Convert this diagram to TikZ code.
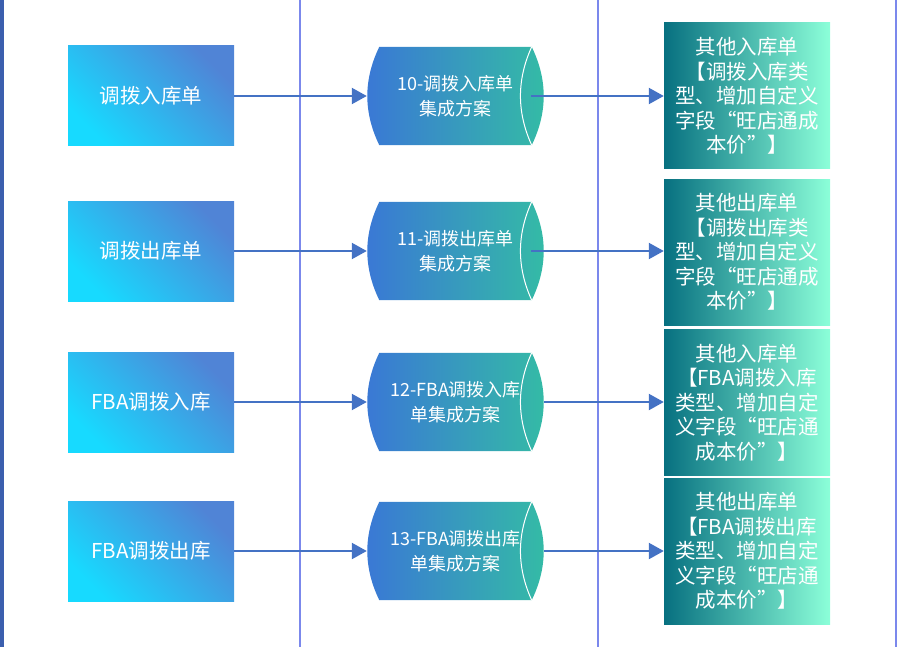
\documentclass[tikz,border=0pt]{standalone}
\usepackage{fontspec}
\setmainfont{Noto Sans CJK SC}
\usetikzlibrary{positioning,backgrounds,arrows.meta}

\definecolor{linkblue}{HTML}{4472C4}
\definecolor{laneline}{HTML}{7B88EC}
\definecolor{edgeblue}{HTML}{3B5FAE}
\definecolor{srclow}{HTML}{17DAFF}
\definecolor{srchigh}{HTML}{5084D6}
\definecolor{drumleft}{HTML}{3A77D6}
\definecolor{drummid}{HTML}{5B82E2}
\definecolor{drumright}{HTML}{34BCA5}
\definecolor{dstleft}{HTML}{077080}
\definecolor{dstright}{HTML}{8CFFD9}

% cylinder body behind a named node
\newcommand{\drumbody}[1]{%
  \begin{scope}[on background layer]
    \shade[left color=drumleft, middle color=drummid, right color=drumright]
      ([xshift=12.5pt]#1.north west) -- ([xshift=-12.5pt]#1.north east)
      .. controls +(16pt,-33pt) and +(16pt,33pt) .. ([xshift=-12.5pt]#1.south east)
      -- ([xshift=12.5pt]#1.south west)
      .. controls +(-16pt,33pt) and +(-16pt,-33pt) .. ([xshift=12.5pt]#1.north west) -- cycle;
  \end{scope}
  \draw[white, line width=1pt] ([xshift=-12.5pt]#1.north east)
    .. controls +(-15pt,-33pt) and +(-15pt,33pt) .. ([xshift=-12.5pt]#1.south east);}

\begin{document}
\begin{tikzpicture}[x=1pt, y=1pt,
    src/.style={minimum width=166pt, minimum height=100pt, inner sep=0pt,
      bottom color=srclow, top color=srchigh, shading angle=-45,
      text=white, font=\fontsize{20.5}{24}\selectfont},
    plan/.style={minimum width=177pt, minimum height=98pt, inner sep=0pt,
      text=white, align=center, font=\fontsize{18}{25}\selectfont},
    dst/.style={minimum width=166pt, minimum height=146pt, inner sep=0pt,
      left color=dstleft, right color=dstright,
      text=white, align=center, font=\fontsize{20.5}{24.6}\selectfont},
    link/.style={linkblue, line width=2.2pt, -{Triangle[length=15pt, width=16pt]}}]
    \useasboundingbox (0,0) rectangle (901,-647);
    % lanes
    \fill[edgeblue] (0,0) rectangle (3.5,-647);
    \draw[laneline, line width=2.2pt] (300,0) -- (300,-647);
    \draw[laneline, line width=2.2pt] (598,0) -- (598,-647);
    \draw[laneline, line width=2.2pt] (896,0) -- (896,-647);

    % row 1
    \node[src] (s1) at (151,-96) {调拨入库单};
    \node[plan] (p1) at (455.5,-96) {10-调拨入库单\\集成方案};
    \drumbody{p1}
    \node[dst] (d1) at (747,-96) {其他入库单\\【调拨入库类\\型、增加自定义\\字段“旺店通成\\本价”】};
    \draw[link] (s1) -- (p1);
    \draw[link] ([xshift=-13pt]p1.east) -- (d1);

    % row 2
    \node[src] (s2) at (151,-251) {调拨出库单};
    \node[plan] (p2) at (455.5,-251) {11-调拨出库单\\集成方案};
    \drumbody{p2}
    \node[dst] (d2) at (747,-252) {其他出库单\\【调拨出库类\\型、增加自定义\\字段“旺店通成\\本价”】};
    \draw[link] (s2) -- (p2);
    \draw[link] ([xshift=-13pt]p2.east) -- (d2.west |- p2.east);

    % row 3
    \node[src] (s3) at (151,-402) {FBA调拨入库};
    \node[plan] (p3) at (455.5,-402) {12-FBA调拨入库\\单集成方案};
    \drumbody{p3}
    \node[dst] (d3) at (747,-402.5) {其他入库单\\【FBA调拨入库\\类型、增加自定\\义字段“旺店通\\成本价”】};
    \draw[link] (s3) -- (p3);
    \draw[link] (p3) -- (d3.west |- p3.east);

    % row 4
    \node[src] (s4) at (151,-551) {FBA调拨出库};
    \node[plan] (p4) at (455.5,-551) {13-FBA调拨出库\\单集成方案};
    \drumbody{p4}
    \node[dst] (d4) at (747,-551) {其他出库单\\【FBA调拨出库\\类型、增加自定\\义字段“旺店通\\成本价”】};
    \draw[link] (s4) -- (p4);
    \draw[link] (p4) -- (d4);
\end{tikzpicture}
\end{document}
